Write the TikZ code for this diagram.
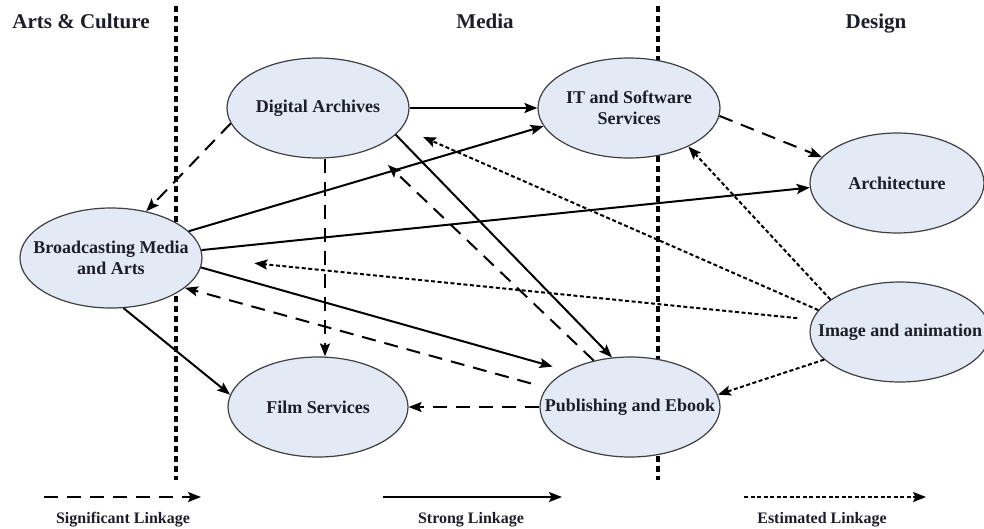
\documentclass[tikz,border=0pt]{standalone}
\usepackage{fontspec}
\setmainfont{Liberation Serif}
\usetikzlibrary{arrows.meta,shapes.geometric}

\definecolor{bluefill}{HTML}{E3E9F5}
\definecolor{inktext}{HTML}{1E1E2A}

\begin{document}
\begin{tikzpicture}[x=1pt, y=-1pt, >={Stealth[length=13pt,width=10pt,inset=2.5pt]},
    sector/.style={ellipse, draw=black!75, line width=1.2pt, fill=bluefill,
      minimum width=182pt, minimum height=100pt, inner xsep=-70pt, inner ysep=0pt,
      font=\fontsize{18}{21}\selectfont\bfseries, align=center, text=inktext},
    head/.style={anchor=base, font=\fontsize{21}{24}\selectfont\bfseries, text=inktext},
    legend/.style={anchor=base, font=\fontsize{16}{18}\selectfont\bfseries, text=inktext},
    divider/.style={line width=3.5pt, dash pattern=on 6pt off 4pt},
    sig/.style={->, line width=2pt, dash pattern=on 14pt off 9pt},
    str/.style={->, line width=2pt},
    est/.style={->, line width=2pt, dash pattern=on 4pt off 2.5pt}]
  \useasboundingbox[fill=white] (0,0) rectangle (984,528);

  \draw[divider] (176,6) -- (176,480);
  \draw[divider] (658,6) -- (658,480);

  \node[head] (arts) at (81,28) {Arts \& Culture};
  \node[head] (media) at (485,28) {Media};
  \node[head] (design) at (876,28) {Design};

  \node[sector] (da) at (318,108) {Digital Archives};
  \node[sector] (it) at (629,108) {IT and Software\\Services};
  \node[sector, minimum width=174pt] (arch) at (897,183) {Architecture};
  \node[sector] (bm) at (111,258) {Broadcasting Media\\and Arts};
  \node[sector, minimum width=180pt] (img) at (900,332) {Image and animation};
  \node[sector, minimum width=180pt] (film) at (318,407) {Film Services};
  \node[sector, minimum width=180pt] (pub) at (630,407) {Publishing and Ebook};

  \coordinate (daHit) at (388,165);
  \coordinate (midHit) at (423,137);

  \draw[str] (da) -- (it);
  \draw[sig] (da.190) -- (bm.53);
  \draw[sig] ([xshift=7pt]da.south) -- ([xshift=7pt]film.north);
  \draw[str] (da.-19) -- (pub.110);
  \draw[sig] (pub.128) -- (daHit);
  \draw[sig] (it.-5) -- (arch.161);
  \draw[est] (img.155) -- (it.-33);
  \draw[est] (img.165) -- (midHit);
  \draw[est, shorten <=15pt, shorten >=52pt] (img.172) -- (bm.east);
  \draw[est] (img.200) -- (pub.8);
  \draw[str] (bm.19) -- (it.192);
  \draw[str] (bm.5) -- (arch.183);
  \draw[str, shorten >=15pt] (bm.-6) -- (pub.150);
  \draw[sig, shorten <=16pt] (pub.167) -- (bm.-22);
  \draw[str] (bm.-76) -- (film.172);
  \draw[sig] (pub) -- (film);

  \coordinate (sigA) at (44,497);
  \coordinate (sigB) at (201,497);
  \coordinate (strA) at (383,497);
  \coordinate (strB) at (562,497);
  \coordinate (estA) at (744,497);
  \coordinate (estB) at (926,497);
  \draw[sig] (sigA) -- (sigB);
  \draw[str] (strA) -- (strB);
  \draw[est] (estA) -- (estB);
  \node[legend] (sigLab) at (123,523) {Significant Linkage};
  \node[legend] (strLab) at (471,523) {Strong Linkage};
  \node[legend] (estLab) at (822,523) {Estimated Linkage};
\end{tikzpicture}
\end{document}
